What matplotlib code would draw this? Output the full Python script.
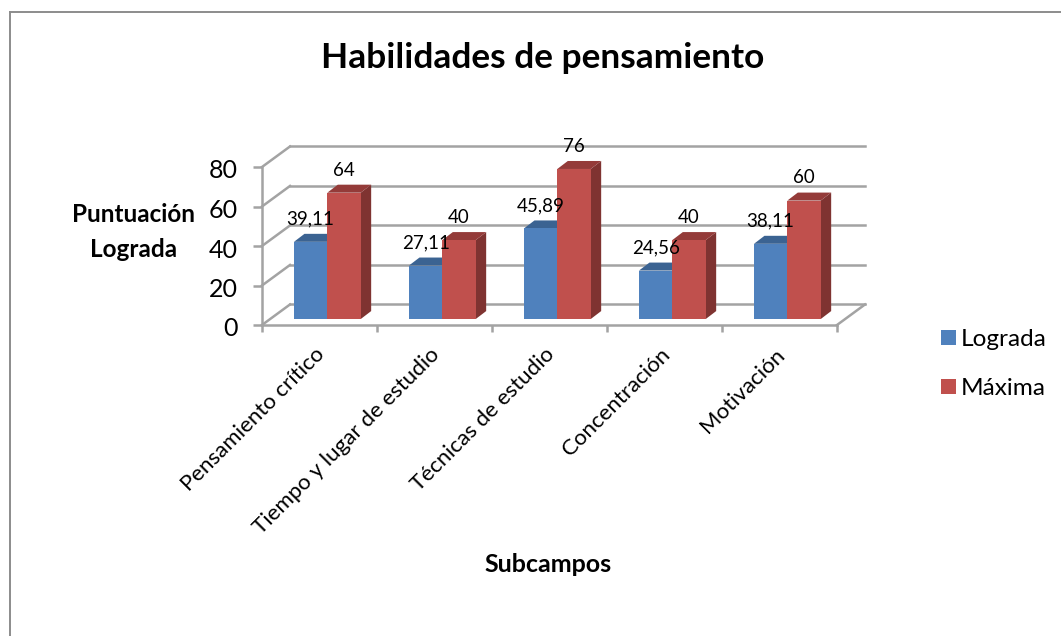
import matplotlib
matplotlib.use('Agg')
import matplotlib.pyplot as plt
from matplotlib.lines import Line2D
from matplotlib.patches import Polygon
from matplotlib.transforms import ScaledTranslation

categories = ['Pensamiento crítico', 'Tiempo y lugar de estudio', 'Técnicas de estudio',
              'Concentración', 'Motivación']
lograda = [39.11, 27.11, 45.89, 24.56, 38.11]
maxima = [64, 40, 76, 40, 60]
lograda_labels = ['39,11', '27,11', '45,89', '24,56', '38,11']
maxima_labels = ['64', '40', '76', '40', '60']
yticks = [0, 20, 40, 60, 80]

W, H = 1061, 636
GRID = '#A3A3A3'
LW = 1.8

# fake 3d offsets, in data units
wall_dx, wall_dy = 0.2435, 10.4
bar_dx, bar_dy = 0.0913, 4.05
bar_w = 0.29
bar_x0 = 0.278
bar_base = 3.0

plt.rcParams['font.family'] = ['Lato', 'DejaVu Sans']

fig = plt.figure(figsize=(W / 100, H / 100), dpi=100)
ax = fig.add_axes([262 / W, (H - 325) / H, 575 / W, 158 / H])
ax.patch.set_visible(False)
ax.set_xlim(0, 5)
ax.set_ylim(0, 80)

for s in ['top', 'right']:
    ax.spines[s].set_visible(False)
for s in ['left', 'bottom']:
    ax.spines[s].set_color(GRID)
    ax.spines[s].set_linewidth(LW)

# back wall, side wall and floor
for v in yticks:
    ax.plot([0, wall_dx], [v, v + wall_dy], color=GRID, lw=LW, clip_on=False, zorder=1)
    ax.plot([wall_dx, 5 + wall_dx], [v + wall_dy, v + wall_dy], color=GRID, lw=LW,
            clip_on=False, zorder=1)
ax.plot([5, 5 + wall_dx], [0, wall_dy], color=GRID, lw=LW, clip_on=False, zorder=1)


def draw_series(x, values, face, side, top, name):
    bars = ax.bar(x, values, width=bar_w, bottom=bar_base, align='edge', color=face,
                  label=name, zorder=3, clip_on=False)
    for xi, v in zip(x, values):
        y = v + bar_base
        ax.add_patch(Polygon([(xi + bar_w, bar_base), (xi + bar_w + bar_dx, bar_base + bar_dy),
                              (xi + bar_w + bar_dx, y + bar_dy), (xi + bar_w, y)],
                             closed=True, color=side, lw=0, zorder=2, clip_on=False))
        ax.add_patch(Polygon([(xi, y), (xi + bar_dx, y + bar_dy),
                              (xi + bar_w + bar_dx, y + bar_dy), (xi + bar_w, y)],
                             closed=True, color=top, lw=0, zorder=2, clip_on=False))
    return bars


x_log = [i + bar_x0 for i in range(len(categories))]
x_max = [i + bar_x0 + bar_w for i in range(len(categories))]
b1 = draw_series(x_log, lograda, '#4F81BD', '#385D8A', '#3B6392', 'Lograda')
b2 = draw_series(x_max, maxima, '#C0504D', '#7F3331', '#943B39', 'Máxima')

for xs, vals, labels in [(x_log, lograda, lograda_labels), (x_max, maxima, maxima_labels)]:
    for xi, v, t in zip(xs, vals, labels):
        ax.annotate(t, (xi + bar_w / 2, v + bar_base), xytext=(0, 16.3),
                    textcoords='offset points', ha='center', va='center',
                    fontsize=13.5, color='black', zorder=5, annotation_clip=False)

ax.set_yticks(yticks)
ax.tick_params(axis='y', length=6.5, width=LW, color=GRID, pad=11, labelsize=18)
ax.set_xticks(range(6))
ax.set_xticklabels([''] * 6)
ax.tick_params(axis='x', which='major', length=5, width=LW, color=GRID)
ax.set_xticks([i + 0.5 for i in range(5)], minor=True)
cat_labels = ax.set_xticklabels(categories, minor=True, rotation=45, ha='right', va='top',
                                rotation_mode='anchor', fontsize=16)
ax.tick_params(axis='x', which='minor', length=0, pad=14)

# nudge the labels a few pixels
for lab in cat_labels:
    lab.set_transform(lab.get_transform() + ScaledTranslation(-5 / 100, 0, fig.dpi_scale_trans))
for lab in ax.get_yticklabels():
    lab.set_transform(lab.get_transform() + ScaledTranslation(0, -2 / 100, fig.dpi_scale_trans))

fig.text(543 / W, 1 - 58 / H, 'Habilidades de pensamiento', fontsize=25.4, fontweight='bold',
         ha='center', va='center')
fig.text(134 / W, 1 - 232 / H, 'Puntuación\nLograda', fontsize=17.5, fontweight='bold',
         ha='center', va='center', linespacing=1.6)
fig.text(548 / W, 1 - 564 / H, 'Subcampos', fontsize=18, fontweight='bold',
         ha='center', va='center')

ax.legend(handles=[b1, b2], loc='center left', bbox_to_anchor=(941 / W, 1 - 364 / H),
          bbox_transform=fig.transFigure, frameon=False, fontsize=17.6, handlelength=0.6,
          handleheight=0.6, handletextpad=0.2, labelspacing=1.15, borderpad=0, borderaxespad=0)

# chart border, only top and left fall inside the crop
fig.add_artist(Line2D([10 / W, 1], [1 - 12 / H, 1 - 12 / H], color='#8C8C8C', lw=1.4))
fig.add_artist(Line2D([10 / W, 10 / W], [1 - 12 / H, 0], color='#8C8C8C', lw=1.4))

fig.savefig('out.png', dpi=100)
